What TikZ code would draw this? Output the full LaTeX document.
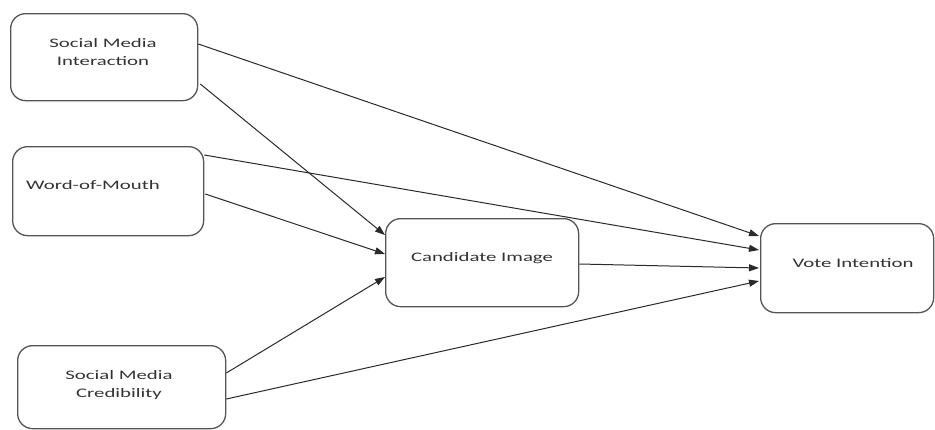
\documentclass[tikz,border=0pt]{standalone}
\usepackage{fontspec}
\setmainfont{Carlito}
\usetikzlibrary{arrows.meta,calc}
\newcommand{\widetxt}[1]{\scalebox{1.6}[1]{#1}}
\definecolor{boxgray}{HTML}{555555}
\definecolor{txtgray}{HTML}{333333}
\definecolor{linegray}{HTML}{2A2A2A}
\tikzset{
  box/.style={draw=boxgray, line width=1.3pt, rounded corners=15pt, inner sep=0pt, anchor=north west},
  lbl/.style={text=txtgray, font=\fontsize{13}{18}\selectfont, align=center, inner sep=0pt},
  conn/.style={draw=linegray, line width=1pt, -{Triangle[length=10pt,width=7pt]}},
}
\begin{document}
\begin{tikzpicture}[x=1pt,y=-1pt]
\useasboundingbox (0,0) rectangle (935,429);
% boxes
\node[box, minimum width=187pt, minimum height=87pt] (smi) at (10,13) {};
\node[box, minimum width=191pt, minimum height=89pt] (wom) at (12,146) {};
\node[box, minimum width=208pt, minimum height=83pt] (smc) at (17,345) {};
\node[box, minimum width=193pt, minimum height=88pt] (ci) at (385,218) {};
\node[box, minimum width=173pt, minimum height=89pt] (vi) at (760,223) {};
% labels
\node[lbl] (smit) at (103,52) {\widetxt{Social Media}\\\widetxt{Interaction}};
\node[lbl] (womt) at (93,185) {\widetxt{Word-of-Mouth}};
\node[lbl] (smct) at (119,385) {\widetxt{Social Media}\\\widetxt{Credibility}};
\node[lbl] (cit) at (482,258) {\widetxt{Candidate Image}};
\node[lbl] (vit) at (853,263) {\widetxt{Vote Intention}};
% connectors
\draw[conn] ($(smi.north east)+(0,31)$) -- ($(vi.north west)+(-1,13)$);
\draw[conn] ($(smi.north east)+(2,71)$) -- ($(ci.north west)+(0,17)$);
\draw[conn] ($(wom.north east)+(0,9)$) -- ($(vi.north west)+(-1,27)$);
\draw[conn] ($(wom.north east)+(1,48)$) -- ($(ci.north west)+(0,36)$);
\draw[conn] ($(ci.north east)+(0,46)$) -- ($(vi.north west)+(-1,45)$);
\draw[conn] ($(smc.north east)+(0,28)$) -- ($(ci.north west)+(0,59)$);
\draw[conn] ($(smc.north east)+(0,54)$) -- ($(vi.north west)+(-1,58)$);
\end{tikzpicture}
\end{document}
